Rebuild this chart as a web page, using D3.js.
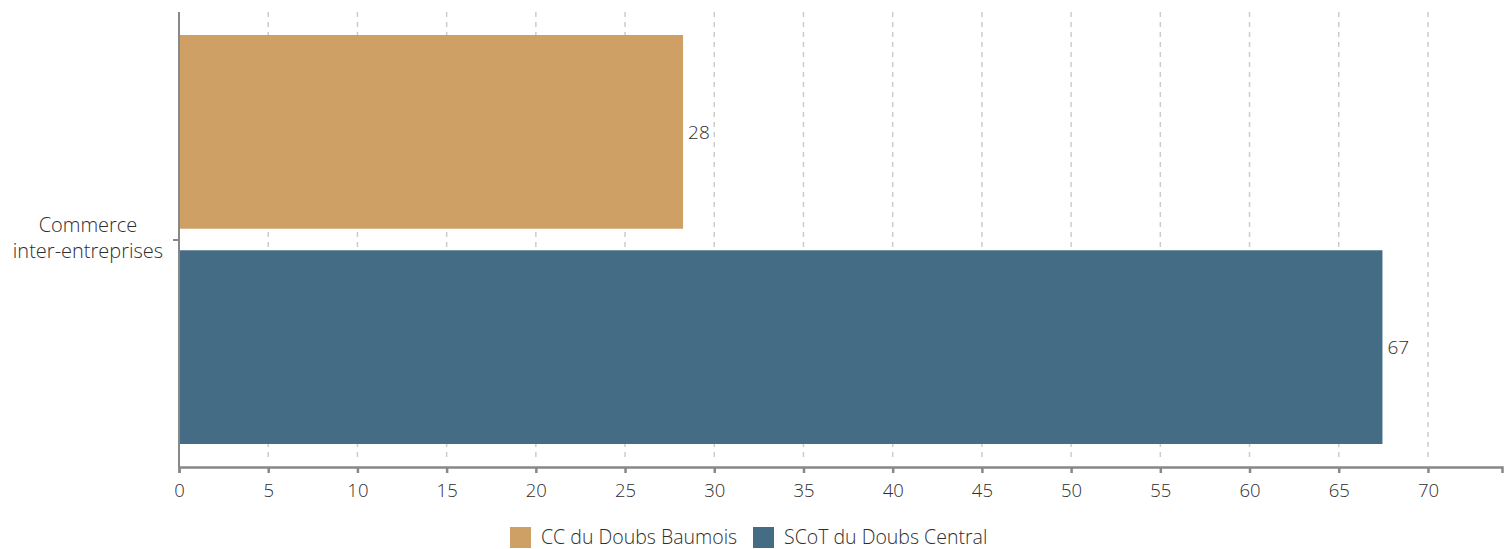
<!DOCTYPE html>
<html><head><meta charset="utf-8">
<script src="https://cdn.jsdelivr.net/npm/d3@7"></script>
<style>
body{margin:0;background:#fff;}
text{font-family:"Open Sans",Lato,sans-serif;fill:#2e2e2e;}
</style></head>
<body><svg id="c" width="1506" height="549"></svg>
<script>
const categories = ["Commerce inter-entreprises"];
const series = ["CC du Doubs Baumois", "SCoT du Doubs Central"];
const values = [28.25, 67.45];
const labels = ["28", "67"];
const colors = ["#CEA066", "#456C85"];
const xTicks = [0,5,10,15,20,25,30,35,40,45,50,55,60,65,70];

(function(){
const svg = d3.select("#c");
const mLeft = 179, mRight = 1502, mTop = 12, mBottom = 467;
const x = d3.scaleLinear().domain([0, 74.15]).range([mLeft, mRight]);
const y = d3.scaleBand().domain(categories).range([mTop, mBottom]);
const ys = d3.scaleBand().domain(series).range([y(categories[0]) + 23, y(categories[0]) + y.bandwidth() - 23]).paddingInner(0.1);

// grid
svg.append("g").selectAll("line").data(xTicks.filter(d=>d>0)).join("line")
  .attr("x1", d=>x(d)).attr("x2", d=>x(d)).attr("y1", mTop).attr("y2", mBottom-5)
  .attr("stroke", "#ccc").attr("stroke-width", 1.5).attr("stroke-dasharray", "5,5");

// bars
svg.append("g").selectAll("rect").data(values).join("rect")
  .attr("x", x(0)).attr("y", (d,i)=>ys(series[i]))
  .attr("width", d=>x(d)-x(0)).attr("height", ys.bandwidth())
  .attr("fill", (d,i)=>colors[i]);

svg.append("g").selectAll("text").data(values).join("text")
  .attr("x", d=>x(d)+5).attr("y", (d,i)=>ys(series[i])+ys.bandwidth()/2)
  .attr("dy", "0.35em").attr("font-size", 19).attr("font-weight", 300)
  .text((d,i)=>labels[i]);

// x axis
const xa = svg.append("g").attr("transform", `translate(0,${mBottom})`)
  .call(d3.axisBottom(x).tickValues(xTicks).tickSize(6).tickPadding(11));
xa.select(".domain").attr("stroke", "#888").attr("stroke-width", 2.5);
xa.selectAll(".tick line").attr("stroke", "#888").attr("stroke-width", 2.5);
xa.selectAll(".tick text").attr("font-size", 18.5).attr("font-weight", 300)
  .attr("font-family", "'Open Sans',Lato,sans-serif").attr("fill", "#2e2e2e");

// y axis
svg.append("line").attr("x1", mLeft).attr("x2", mLeft).attr("y1", mTop).attr("y2", mBottom)
  .attr("stroke", "#888").attr("stroke-width", 2);
const cy = y(categories[0])+y.bandwidth()/2;
svg.append("line").attr("x1", mLeft-6).attr("x2", mLeft).attr("y1", cy+0.5).attr("y2", cy+0.5)
  .attr("stroke", "#888").attr("stroke-width", 2);
const yl = svg.append("text").attr("x", 88).attr("y", cy).attr("text-anchor","middle")
  .attr("font-size", 20).attr("font-weight", 300);
yl.append("tspan").attr("x", 88).attr("dy", "-0.4em").text("Commerce");
yl.append("tspan").attr("x", 88).attr("dy", "1.3em").text("inter-entreprises");

// legend
const lg = svg.append("g");
const lx = [510, 753];
series.forEach((s,i)=>{
  lg.append("rect").attr("x", lx[i]).attr("y", 527).attr("width", 21).attr("height", 21).attr("fill", colors[i]);
  lg.append("text").attr("x", lx[i]+31).attr("y", 537.5).attr("dy","0.35em")
    .attr("font-size", 19.5).attr("font-weight", 300).text(s);
});
})();
</script></body></html>
